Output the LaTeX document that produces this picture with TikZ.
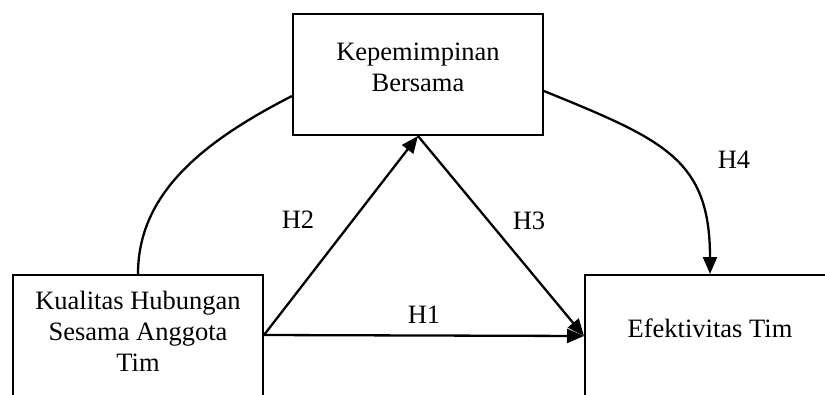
\documentclass[tikz,border=0pt]{standalone}
\usepackage{fontspec}
\setmainfont{Liberation Serif}
\usetikzlibrary{arrows.meta}
\begin{document}
\begin{tikzpicture}[x=1pt,y=-1pt,
  box/.style={draw,line width=2pt,inner sep=0pt,rectangle},
  txt/.style={font=\fontsize{26.5}{31}\selectfont,align=center,inner sep=0pt,anchor=base},
  conn/.style={line width=2.3pt},
  arr/.style={conn,-{Triangle[length=17pt,width=14pt]}}]
\clip (0,0) rectangle (825,394);
\node[box,minimum width=250pt,minimum height=121pt] (tb) at (418,74.5) {};
\node[box,minimum width=250pt,minimum height=170pt] (lb) at (138,360) {};
\node[box,minimum width=250pt,minimum height=170pt] (rb) at (710,360) {};
\node[txt] (tbt) at ([yshift=-78pt]tb.north) {Kepemimpinan\\Bersama};
\node[txt] (lbt) at ([yshift=-97pt]lb.north) {Kualitas Hubungan\\Sesama Anggota\\Tim};
\node[txt] (rbt) at ([yshift=-63pt]rb.north) {Efektivitas Tim};
\draw[arr] ([yshift=-61pt]lb.north east) -- ([yshift=-62pt]rb.north west);
\draw[arr] ([yshift=-61pt]lb.north east) -- (tb.south);
\draw[arr] (tb.south) -- ([yshift=-62pt]rb.north west);
\draw[conn] (lb.north) .. controls +(0,-80) and +(-90,46) .. ([yshift=-83pt]tb.north west);
\draw[arr] ([yshift=-78pt]tb.north east) .. controls +(120,49) and +(0,-115) .. (rb.north);
\node[txt] (h1) at (424,323) {H1};
\node[txt] (h2) at (298,228) {H2};
\node[txt] (h3) at (529,229) {H3};
\node[txt] (h4) at (734,168) {H4};
\end{tikzpicture}
\end{document}
